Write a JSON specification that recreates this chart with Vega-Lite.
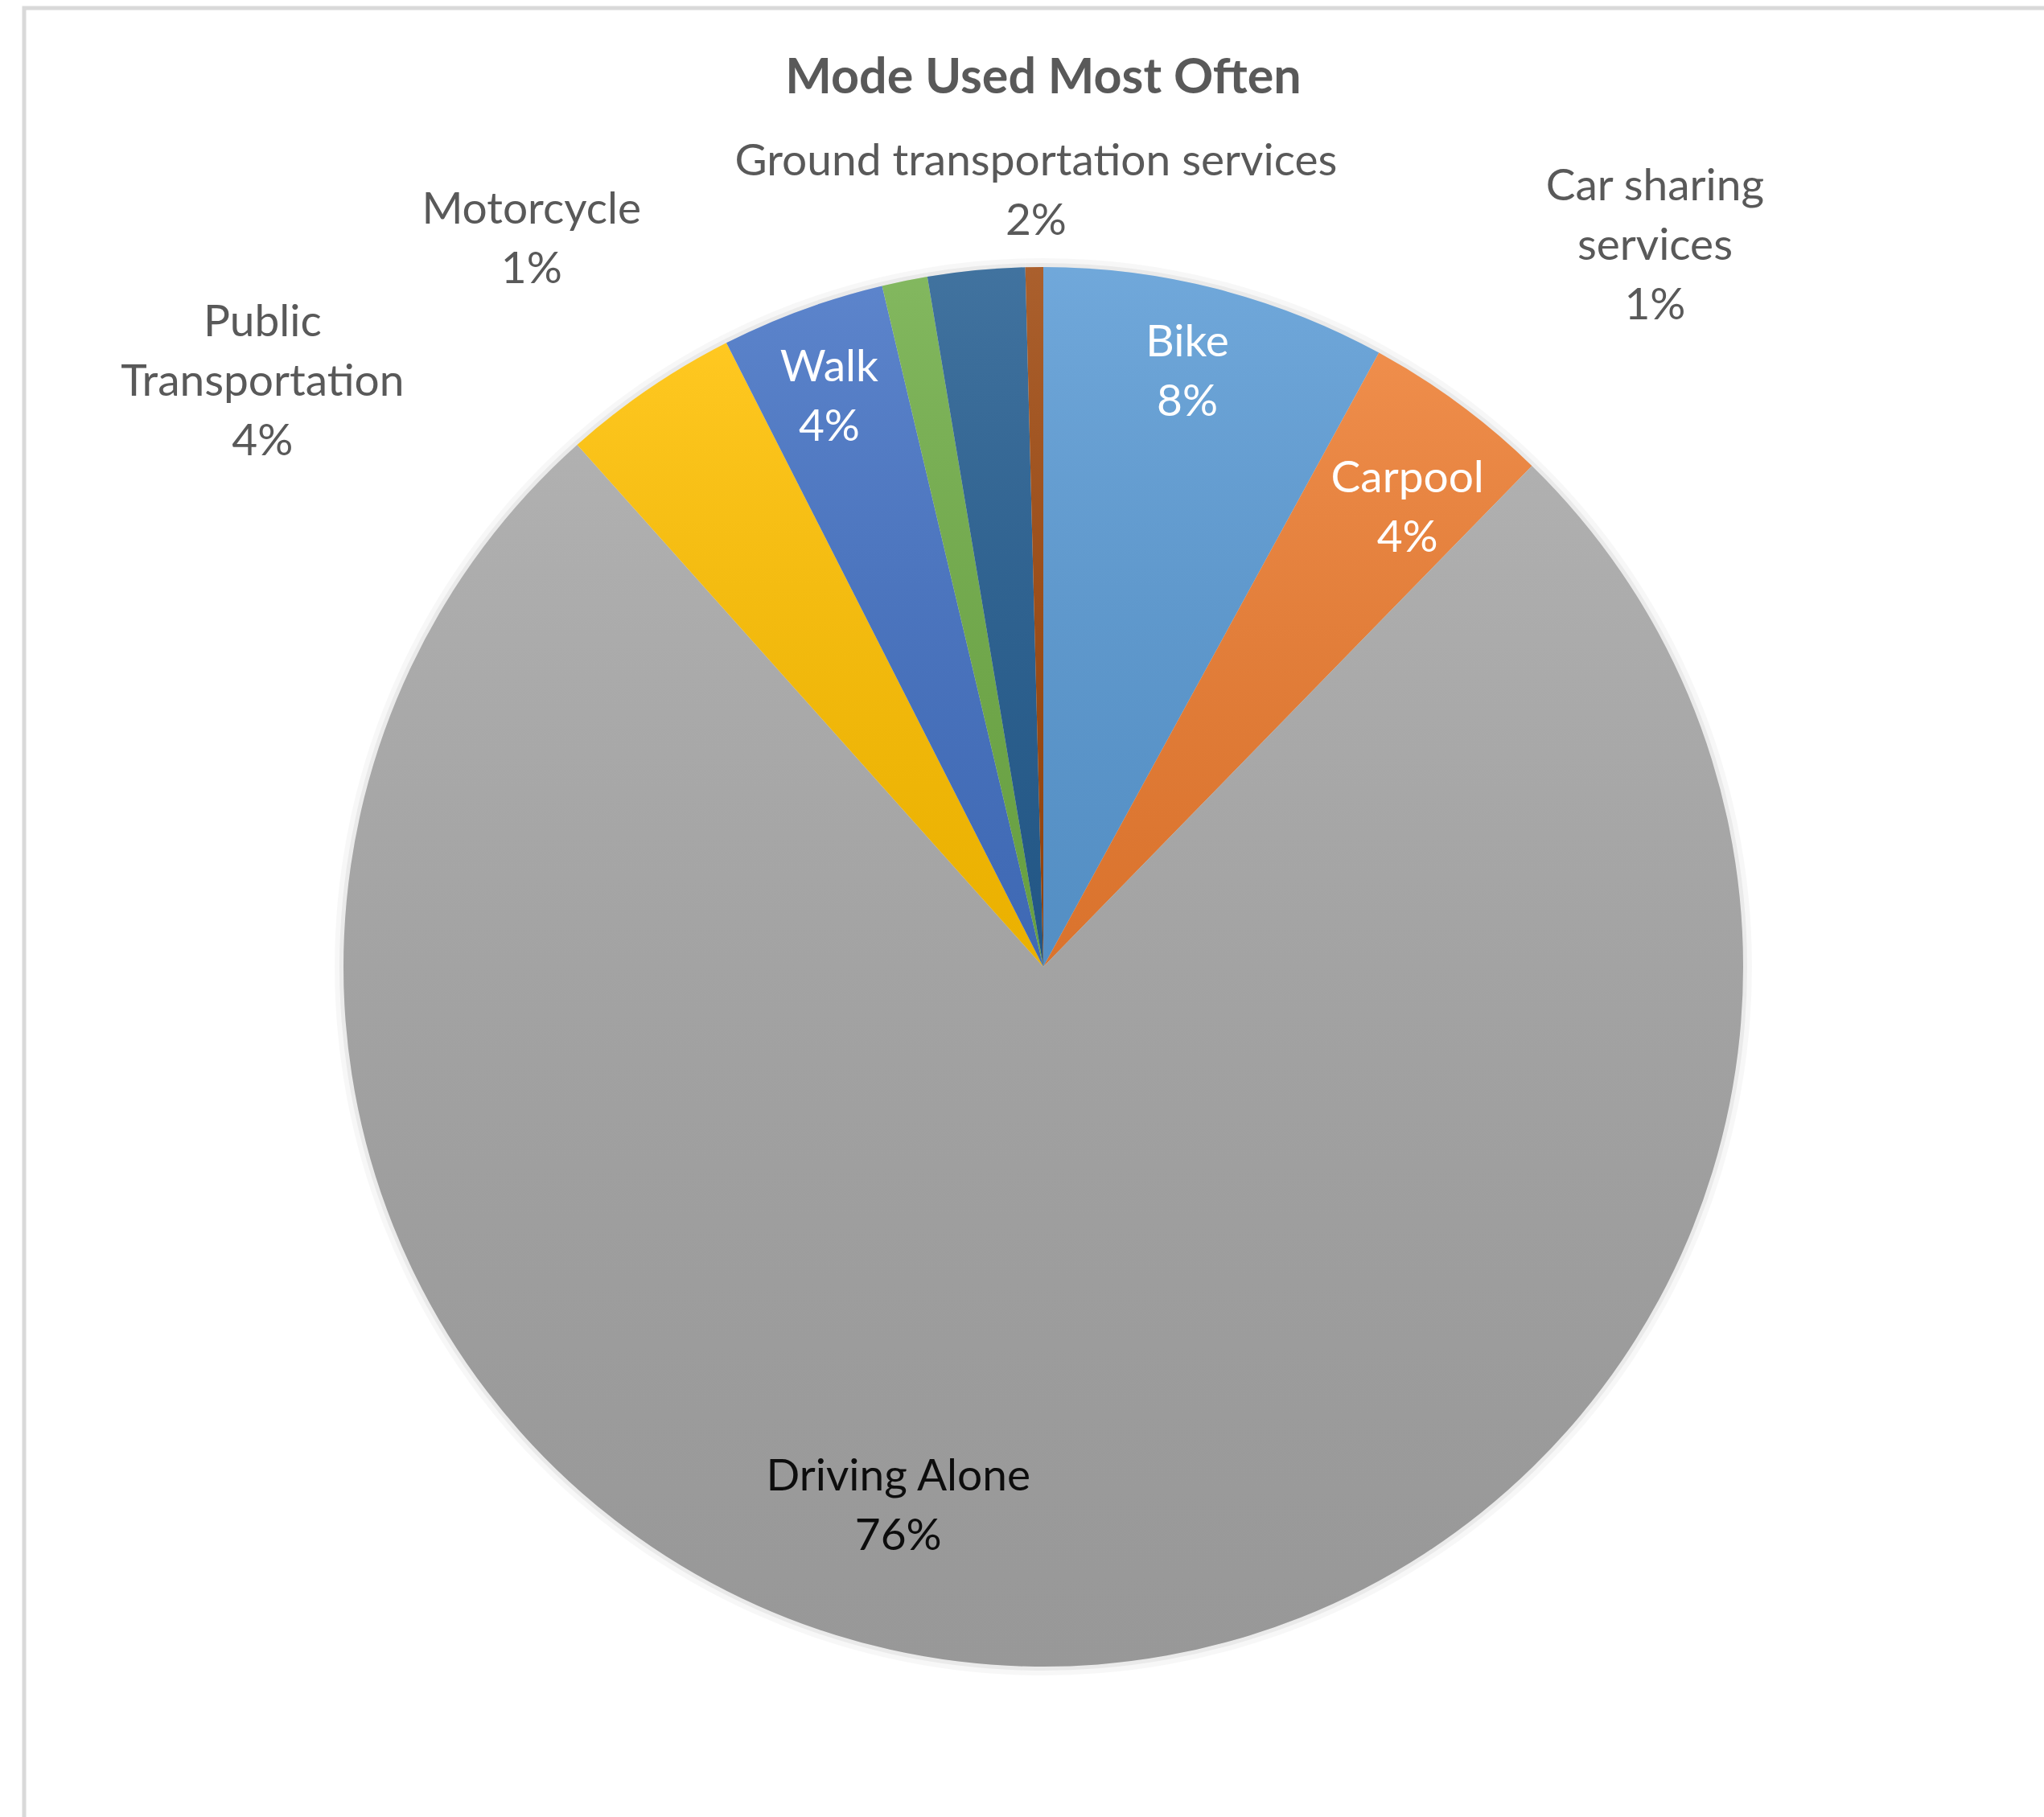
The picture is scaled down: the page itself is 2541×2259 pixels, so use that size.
{
  "$schema": "https://vega.github.io/schema/vega-lite/v6.json",
  "autosize": {"type": "none"},
  "padding": {"left": 30, "top": 10, "right": 0, "bottom": 0},
  "width": 2534,
  "height": 2384,
  "background": "white",
  "view": {"stroke": "#d9d9d9", "strokeWidth": 5, "fill": "white"},
  "title": {"text": "Mode Used Most Often", "font": "Lato", "fontSize": 61, "fontWeight": "bold", "color": "#595959", "anchor": "middle", "offset": -119},
  "data": {"values": [
    {"mode": "Bike", "share": 7.96, "pct": "8%", "idx": 1},
    {"mode": "Carpool", "share": 4.34, "pct": "4%", "idx": 2},
    {"mode": "Driving Alone", "share": 76.1, "pct": "76%", "idx": 3},
    {"mode": "Public Transportation", "share": 4.12, "pct": "4%", "idx": 4},
    {"mode": "Walk", "share": 3.78, "pct": "4%", "idx": 5},
    {"mode": "Motorcycle", "share": 1.05, "pct": "1%", "idx": 6},
    {"mode": "Ground transportation services", "share": 2.24, "pct": "2%", "idx": 7},
    {"mode": "Car sharing services", "share": 0.41, "pct": "1%", "idx": 8}
  ]},
  "transform": [{"calculate": "datum.mode + '\\n' + datum.pct", "as": "label"}],
  "encoding": {
    "theta": {"field": "share", "type": "quantitative", "stack": true},
    "order": {"field": "idx", "type": "quantitative"}
  },
  "layer": [
    {"mark": {"type": "arc", "outerRadius": 881, "fill": "#000000", "opacity": 0.03}},
    {"mark": {"type": "arc", "outerRadius": 875, "fill": "#000000", "opacity": 0.05}},
    {"mark": {"type": "arc", "outerRadius": 870},
     "encoding": {"color": {"field": "mode", "type": "nominal", "legend": null,
       "scale": {"domain": ["Bike", "Carpool", "Driving Alone", "Public Transportation", "Walk", "Motorcycle", "Ground transportation services", "Car sharing services"],
                 "range": ["#5B9BD5", "#ED7D31", "#A5A5A5", "#FFC000", "#4472C4", "#70AD47", "#255E91", "#9E480E"]}}}},
    {"mark": {"type": "arc", "outerRadius": 870,
      "fill": {"gradient": "linear", "x1": 0, "y1": 0, "x2": 0, "y2": 1,
        "stops": [{"offset": 0, "color": "rgba(255,255,255,0.13)"}, {"offset": 1, "color": "rgba(0,0,0,0.08)"}]}}},
    {"mark": {"type": "text", "font": "Lato", "fontSize": 55, "lineBreak": "\n", "lineHeight": 74, "align": "center", "baseline": "middle", "fill": "#ffffff", "dx": -9, "dy": -40},
     "encoding": {"radius": {"value": 760}, "text": {"condition": {"test": "datum.mode === 'Bike'", "field": "label"}, "value": ""}}},
    {"mark": {"type": "text", "font": "Lato", "fontSize": 55, "lineBreak": "\n", "lineHeight": 74, "align": "center", "baseline": "middle", "fill": "#ffffff", "dx": 20, "dy": -22},
     "encoding": {"radius": {"value": 728}, "text": {"condition": {"test": "datum.mode === 'Carpool'", "field": "label"}, "value": ""}}},
    {"mark": {"type": "text", "font": "Lato", "fontSize": 55, "lineBreak": "\n", "lineHeight": 74, "align": "center", "baseline": "middle", "fill": "#ffffff", "dx": -6, "dy": -35},
     "encoding": {"radius": {"value": 756}, "text": {"condition": {"test": "datum.mode === 'Walk'", "field": "label"}, "value": ""}}},
    {"mark": {"type": "text", "font": "Lato", "fontSize": 55, "lineBreak": "\n", "lineHeight": 74, "align": "center", "baseline": "middle", "fill": "#0d0d0d", "dx": -165, "dy": -61},
     "encoding": {"radius": {"value": 695}, "text": {"condition": {"test": "datum.mode === 'Driving Alone'", "field": "label"}, "value": ""}}},
    {"transform": [{"calculate": "replace(datum.mode, ' ', '\\n') + '\\n' + datum.pct", "as": "label2"}],
     "mark": {"type": "text", "font": "Lato", "fontSize": 55, "lineBreak": "\n", "lineHeight": 74, "align": "center", "baseline": "middle", "fill": "#595959", "dx": -446, "dy": -33},
     "encoding": {"radius": {"value": 930}, "text": {"condition": {"test": "datum.mode === 'Public Transportation'", "field": "label2"}, "value": ""}}},
    {"mark": {"type": "text", "font": "Lato", "fontSize": 55, "lineBreak": "\n", "lineHeight": 74, "align": "center", "baseline": "middle", "fill": "#595959", "dx": -448, "dy": -10},
     "encoding": {"radius": {"value": 950}, "text": {"condition": {"test": "datum.mode === 'Motorcycle'", "field": "label"}, "value": ""}}},
    {"mark": {"type": "text", "font": "Lato", "fontSize": 55, "lineBreak": "\n", "lineHeight": 74, "align": "center", "baseline": "middle", "fill": "#595959", "dx": 84, "dy": -35},
     "encoding": {"radius": {"value": 970}, "text": {"condition": {"test": "datum.mode === 'Ground transportation services'", "field": "label"}, "value": ""}}},
    {"transform": [{"calculate": "replace(datum.mode, ' services', '\\nservices') + '\\n' + datum.pct", "as": "label2"}],
     "mark": {"type": "text", "font": "Lato", "fontSize": 55, "lineBreak": "\n", "lineHeight": 74, "align": "center", "baseline": "middle", "fill": "#595959", "dx": 772, "dy": -70},
     "encoding": {"radius": {"value": 900}, "text": {"condition": {"test": "datum.mode === 'Car sharing services'", "field": "label2"}, "value": ""}}}
  ]
}
